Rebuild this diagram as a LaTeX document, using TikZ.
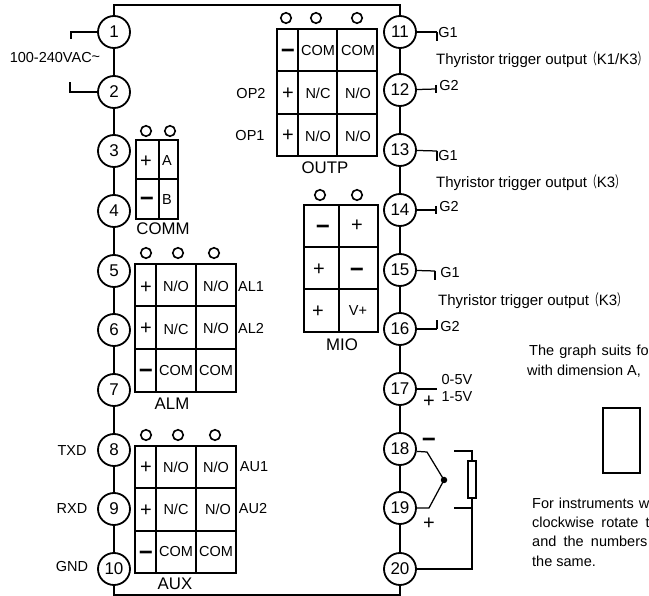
\documentclass[tikz,border=0pt]{standalone}
\usepackage{fontspec}
\setmainfont{Liberation Sans}
\newfontfamily\cjk{Noto Sans CJK SC}
\newcommand{\openkai}{\scalebox{0.65}[1]{\cjk （}}
\newcommand{\closekai}{\scalebox{0.65}[1]{\cjk ）}}
\begin{document}
\begin{tikzpicture}[
        x=1pt, y=-1pt,
        % common styles
        terminal/.style={circle, draw, line width=1.8pt, minimum size=32pt, inner sep=0pt, font=\fontsize{17}{17}\selectfont},
        hole/.style={circle, draw, line width=1.6pt, minimum size=10.5pt, inner sep=0pt},
        wire/.style={line width=1.7pt},
        lead/.style={line width=1.25pt},
        grid line/.style={line width=1.6pt},
        heavy line/.style={line width=2.2pt},
        cell/.style={inner sep=0pt, font=\fontsize{14.5}{15}\selectfont},
        sign/.style={inner sep=0pt, yshift=-1pt, font=\fontsize{20}{20}\selectfont},
        minus/.style={inner sep=0pt, yshift=-4pt, font=\fontsize{24}{24}\selectfont\bfseries},
        label text/.style={inner sep=0pt, font=\fontsize{14.5}{15}\selectfont},
        block name/.style={inner sep=0pt, font=\fontsize{16.8}{17}\selectfont},
        note/.style={inner sep=0pt, anchor=base west, font=\fontsize{14.5}{15}\selectfont},
        output note/.style={inner sep=0pt, anchor=base west, font=\fontsize{15}{15}\selectfont}
    ]
    \useasboundingbox (0,0) rectangle (649,596);

    % --- terminals ---
    \foreach \n/\y in {1/32,2/92,3/151,4/211,5/271,6/330,7/390,8/450,9/509,10/569}
        \node[terminal] (t\n) at (114,\y) {\n};
    \foreach \n/\y in {11/32,12/90,13/150,14/210,15/270,16/329,17/389,18/449,19/508,20/569}
        \node[terminal] (t\n) at (400,\y) {\n};

    % 1. case outline and the wires between terminals
    \coordinate (nw) at (114,5);
    \coordinate (sw) at (114,595);
    \draw[wire] (t1) -- (nw) -| (t11);
    \draw[wire] (t10) -- (sw) -| (t20);
    \foreach \a/\b in {1/2,2/3,3/4,4/5,5/6,6/7,7/8,8/9,9/10,11/12,12/13,13/14,14/15,15/16,16/17,17/18,18/19,19/20}
        \draw[wire] (t\a) -- (t\b);

    % 2. power leads
    \coordinate (p1) at (71,32);
    \coordinate (p2) at (70,92);
    \draw[wire] (t1) -- (p1) -- ++(0,7);
    \draw[wire] (t2) -- (p2) -- ++(0,-10);
    \node[label text] (power) at (55,57.5) {100-240VAC\raisebox{1pt}{\textasciitilde}};

    % --- OUTP ---
    \draw[grid line] (277,29) rectangle (377,156);
    \draw[grid line] (298,29) -- (298,156);
    \draw[grid line] (337,29) -- (337,156);
    \draw[heavy line] (277,71) -- (377,71);
    \draw[grid line] (277,114) -- (377,114);
    \foreach \x [count=\i] in {286,316,357}
        \node[hole] (outp hole\i) at (\x,18) {};
    \node[minus] (outp s1) at (288,50) {−};
    \node[sign] (outp s2) at (288,93) {+};
    \node[sign] (outp s3) at (288,135) {+};
    \foreach \x/\y/\txt [count=\i] in {318/51/COM,358/51/COM,318/93/N\slash C,358/93/N\slash O,318/136/N\slash O,358/136/N\slash O}
        \node[cell] (outp c\i) at (\x,\y) {\txt};
    \node[label text] (op2) at (251,94) {OP2};
    \node[label text] (op1) at (250,136) {OP1};
    \node[block name] (outp) at (325,168) {OUTP};

    % --- COMM ---
    \draw[grid line] (136,140) rectangle (178,219);
    \draw[grid line] (159,140) -- (159,219);
    \draw[grid line] (136,179) -- (178,179);
    \foreach \x [count=\i] in {146,170}
        \node[hole] (comm hole\i) at (\x,131) {};
    \node[sign] (comm s1) at (146,161) {+};
    \node[minus] (comm s2) at (147,198) {−};
    \node[cell] (comm a) at (167,161) {A};
    \node[cell] (comm b) at (167,200) {B};
    \node[block name] (comm) at (163,229) {COMM};

    % --- ALM ---
    \draw[grid line] (135,264) rectangle (236,392);
    \draw[heavy line] (156,264) -- (156,392);
    \draw[heavy line] (196,264) -- (196,392);
    \draw[heavy line] (135,306) -- (236,306);
    \draw[grid line] (135,349) -- (236,349);
    \foreach \x [count=\i] in {146,178,214}
        \node[hole] (alm hole\i) at (\x,253) {};
    \node[sign] (alm s1) at (146,287) {+};
    \node[sign] (alm s2) at (146,328) {+};
    \node[minus] (alm s3) at (146,370) {−};
    \foreach \x/\y/\txt [count=\i] in {176/286/N\slash O,216/286/N\slash O,176/329/N\slash C,216/328/N\slash O,176/371/COM,216/371/COM}
        \node[cell] (alm c\i) at (\x,\y) {\txt};
    \node[label text] (al1) at (251,287) {AL1};
    \node[label text] (al2) at (251,328) {AL2};
    \node[block name] (alm) at (172,404) {ALM};

    % --- AUX ---
    \draw[grid line] (135,446) rectangle (236,573);
    \draw[grid line] (156,446) -- (156,573);
    \draw[grid line] (196,446) -- (196,573);
    \draw[grid line] (135,488) -- (236,488);
    \draw[grid line] (135,531) -- (236,531);
    \foreach \x [count=\i] in {146,178,215}
        \node[hole] (aux hole\i) at (\x,435) {};
    \node[sign] (aux s1) at (146,467) {+};
    \node[sign] (aux s2) at (146,510) {+};
    \node[minus] (aux s3) at (146,552) {−};
    \foreach \x/\y/\txt [count=\i] in {176/467/N\slash O,216/467/N\slash O,176/509/N\slash C,218/509/N\slash O,176/552/COM,216/552/COM}
        \node[cell] (aux c\i) at (\x,\y) {\txt};
    \node[label text] (au1) at (254,467) {AU1};
    \node[label text] (au2) at (253,509) {AU2};
    \node[block name] (aux) at (175,584) {AUX};
    \node[label text] (txd) at (72,451) {TXD};
    \node[label text] (rxd) at (72,509) {RXD};
    \node[label text] (gnd) at (72,567) {GND};

    % --- MIO ---
    \draw[grid line] (304,205) rectangle (378,332);
    \draw[grid line] (339,205) -- (339,332);
    \draw[grid line] (304,247) -- (378,247);
    \draw[grid line] (304,289) -- (378,289);
    \foreach \x [count=\i] in {320,357}
        \node[hole] (mio hole\i) at (\x,195) {};
    \node[minus] (mio s1) at (323,226) {−};
    \node[sign] (mio s2) at (357,225) {+};
    \node[sign] (mio s3) at (319,269) {+};
    \node[minus] (mio s4) at (357,269) {−};
    \node[sign] (mio s5) at (318,311) {+};
    \node[cell] (mio v) at (358,311) {V+};
    \node[block name] (mio) at (342,345) {MIO};

    % --- thyristor outputs ---
    \foreach \n/\x/\y/\d in {11/437/32/9,13/437/151/10,15/435/271/9}{
        \coordinate (g\n) at (\x,\y);
        \draw[lead] (t\n) -- (g\n);
        \draw[wire] (g\n) -- ++(0,\d);
    }
    \foreach \n/\x/\y in {12/436/89,14/436/210}{
        \coordinate (g\n) at (\x,\y);
        \draw[lead] (t\n) -- (g\n);
        \draw[wire] (g\n) ++(0,-4) -- ++(0,8);
    }
    \coordinate (g16) at (437,329);
    \draw[lead] (t16) -- (g16);
    \draw[wire] (g16) -- ++(0,-9);
    \node[label text] (g1a) at (448,33) {G1};
    \node[label text] (g2a) at (449,86) {G2};
    \node[label text] (g1b) at (448,156) {G1};
    \node[label text] (g2b) at (449,207) {G2};
    \node[label text] (g1c) at (450,273) {G1};
    \node[label text] (g2c) at (450,327) {G2};
    \node[output note] (thy1) at (436,65) {Thyristor trigger output\openkai K1/K3\closekai};
    \node[output note] (thy2) at (436,188) {Thyristor trigger output\openkai K3\closekai};
    \node[output note] (thy3) at (438,306) {Thyristor trigger output\openkai K3\closekai};

    % --- 0-5V input ---
    \coordinate (v17) at (437,389);
    \draw[lead] (t17) -- (v17);
    \node[sign] (p17) at (429,401) {+};
    \node[label text] (v05) at (457,380) {0-5V};
    \node[label text] (v15) at (457,397) {1-5V};

    % --- thermocouple and resistance ---
    \coordinate (tc18) at (427,452);
    \coordinate (tc19) at (429,508);
    \node[circle, fill, minimum size=6.5pt, inner sep=0pt] (tcdot) at (444,480) {};
    \draw[lead] (t18.-8) -- (tc18) -- (tcdot.center) -- (tc19) -- (t19);
    \node[minus] (m18) at (429,439) {−};
    \node[sign] (p19) at (429,523) {+};
    \node[draw, line width=1.1pt, minimum width=8pt, minimum height=37pt, inner sep=0pt] (res) at (472,479.5) {};
    \coordinate (r18) at (454,451);
    \coordinate (r19) at (454,508);
    \coordinate (r20) at (472,569);
    \draw[lead] (r18) -| (res.north);
    \draw[wire] (res.south) -- (r20) -- (t20);
    \draw[lead] (r19) -- (res.south |- r19);

    % --- notes on the right ---
    \draw[line width=1.7pt] (603,408) rectangle (640,473);
    \node[note] (graph1) at (529,356) {\spaceskip=5.2pt The graph suits fo};
    \node[note] (graph2) at (527,376) {with dimension A,};
    \node[note] (rot1) at (532,508) {\spaceskip=5pt For instruments w};
    \node[note] (rot2) at (532,528) {\spaceskip=7.2pt clockwise rotate t};
    \node[note] (rot3) at (532,547) {\spaceskip=7.2pt and the numbers};
    \node[note] (rot4) at (532,566) {the same.};

\end{tikzpicture}
\end{document}
